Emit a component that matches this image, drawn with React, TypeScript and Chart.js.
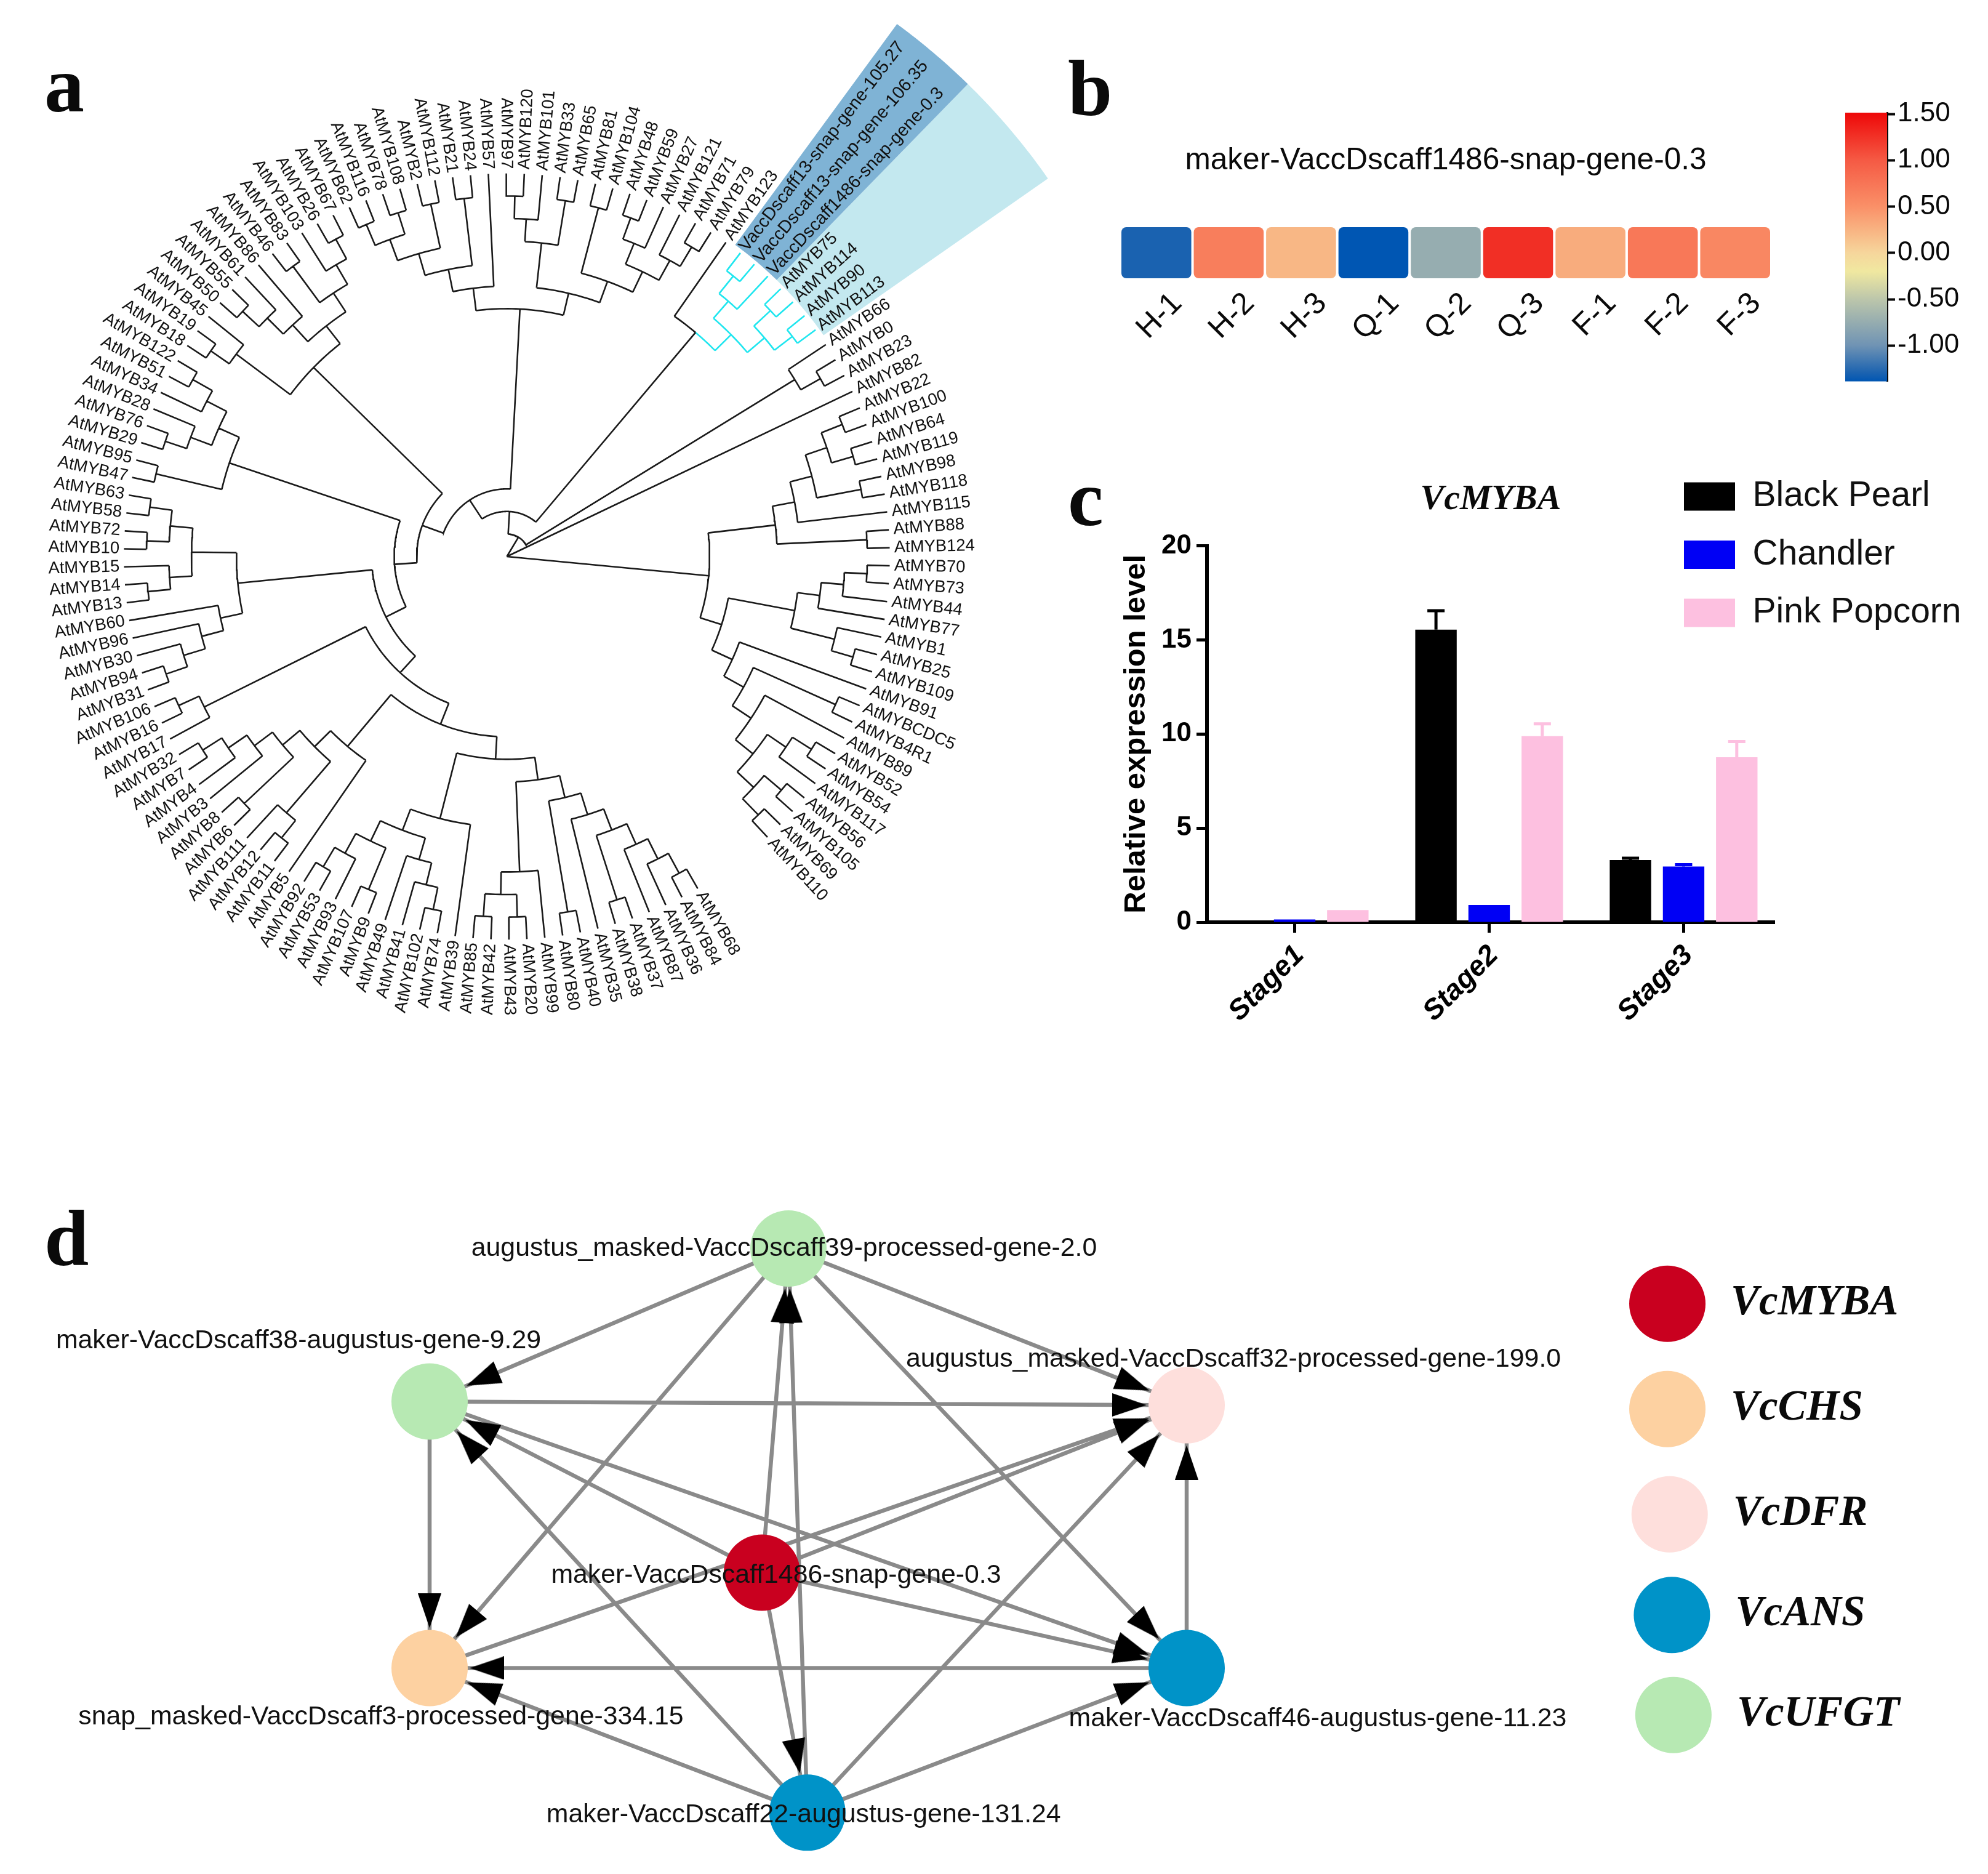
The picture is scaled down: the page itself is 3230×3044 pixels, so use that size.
import React, { useEffect, useRef } from "react";
import { Chart, registerables } from "chart.js";

Chart.register(...registerables);

const SANS = "'Liberation Sans', Arial, sans-serif";
const SERIF = "'Liberation Serif', 'Times New Roman', serif";

/* ---------- panel a: cladogram; the first number of each clade is its depth ---------- */
const V105 = "VaccDscaff13-snap-gene-105.27";
const V106 = "VaccDscaff13-snap-gene-106.35";
const V1486 = "VaccDscaff1486-snap-gene-0.3";
const m = (n: number | string) => "AtMYB" + n;

const cyanClade: any = [14, [15, [16, V105, V106], V1486], [15, [16, m(75), m(114)], [16, m(90), m(113)]]];

const clade292: any = [8,
  [9,
    [10,
      [11, [12, [13, [14, [15, [16, m(68), m(84)], m(36)], m(87)], [16, m(37), m(38)]], m(35)], [16, m(40), m(80)]],
      [14, m(99), [15, [16, m(20), m(43)], [16, m(42), m(85)]]]],
    [12, m(39), [13, [14, [15, [16, m(74), m(102)], m(41)], m(49)], [14, [16, m(9), m(107)], [15, m(93), [16, m(53), m(92)]]]]]],
  [11, m(5), [12, [15, [16, m(11), m(12)], m(111)], [13, [16, m(6), m(8)], [14, m(3), [15, m(4), [16, m(7), m(32)]]]]]]];

const clade254: any = [7, clade292, [15, m(17), [16, m(16), m(106)]]];
const clade218: any = [6, clade254,
  [12, [13, [14, [15, [16, m(31), m(94)], m(30)], m(96)], m(60)],
    [14, [15, [16, m(13), m(14)], m(15)], [15, [16, m(10), m(72)], [16, m(58), m(63)]]]]];
const clade183: any = [5, clade218,
  [13, [16, m(47), m(95)], [14, [15, [16, m(29), m(76)], m(28)], [15, m(34), [16, m(51), m(122)]]]]];
const clade147: any = [4, clade183,
  [12, [15, [16, m(18), m(19)], m(45)],
    [13, [14, [15, [16, m(50), m(55)], m(61)], m(86)], [14, [16, m(46), m(83)], [15, m(103), [16, m(26), m(67)]]]]]];
const clade403: any = [11,
  [12, [13, [14, [15, [16, m(62), m(116)], [16, m(78), m(108)]], [16, m(2), m(112)]], [16, m(21), m(24)]], m(57)],
  [12, [14, [15, [16, m(97), m(120)], m(101)], [16, m(33), m(65)]],
    [13, [16, m(81), m(104)], [14, [15, [16, m(48), m(59)], m(27)], [15, m(121), [16, m(71), m(79)]]]]]];
const clade36: any = [1, [2, [3, clade147, clade403], [13, m(123), cyanClade]], [15, m(66), [16, m(0), m(23)]]];
const clade329: any = [9,
  [12, [13, [14, [15, [16, m(22), m(100)], [16, m(64), m(119)]], [16, m(98), m(118)]], m(115)], [16, m(88), m(124)]],
  [10, [13, [14, [15, [16, m(70), m(73)], m(44)], m(77)], [15, m(1), [16, m(25), m(109)]]],
    [11, m(91), [12, [16, m("CDC5"), m("4R1")],
      [13, m(89), [14, [15, [16, m(52), m(54)], m(117)], [15, [16, m(56), m(105)], [16, m(69), m(110)]]]]]]]];
const treeRoot: any = [0, clade36, m(82), clade329];

const TIP_DEPTH = 17;
const FIRST_LEAF_ANGLE = 60.1;
const LEAF_STEP = 2.69;
const PX_PER_DEPTH = 36.6;
const TREE_CX = 823.5;
const TREE_CY = 904;

type P = { x: number; y: number };
const BREAK: P = { x: NaN, y: NaN };
const polar = (d: number, a: number): P => ({
  x: d * Math.cos((a * Math.PI) / 180),
  y: d * Math.sin((a * Math.PI) / 180),
});

function layoutTree() {
  const black: P[] = [];
  const cyan: P[] = [];
  const leaves: { name: string; angle: number }[] = [];
  const radial = (d0: number, d1: number, a: number, col: boolean) => {
    if (d0 === d1) return;
    (col ? cyan : black).push(polar(d0, a), polar(d1, a), BREAK);
  };
  const arc = (d: number, a0: number, a1: number, col: boolean) => {
    const t = col ? cyan : black;
    const n = Math.max(1, Math.ceil(Math.abs(a1 - a0)));
    for (let i = 0; i <= n; i++) t.push(polar(d, a0 + ((a1 - a0) * i) / n));
    t.push(BREAK);
  };
  const visit = (node: any, parentDepth: number, col: boolean): number => {
    if (typeof node === "string") {
      const a = FIRST_LEAF_ANGLE + LEAF_STEP * leaves.length;
      leaves.push({ name: node, angle: a });
      radial(parentDepth, TIP_DEPTH, a, col);
      return a;
    }
    const [d, ...kids] = node;
    const here = col || node === cyanClade;
    const angles = kids.map((k: any) => visit(k, d, here));
    const a = (angles[0] + angles[angles.length - 1]) / 2;
    radial(parentDepth, d, a, here);
    if (d > 0) kids.forEach((k: any, i: number) => arc(d, a, angles[i], here || k === cyanClade));
    return a;
  };
  visit(treeRoot, 0, false);
  return { black, cyan, leaves };
}

/* ---------- panel b ---------- */
const sampleLabels = ["H-1", "H-2", "H-3", "Q-1", "Q-2", "Q-3", "F-1", "F-2", "F-3"];
const sampleZ = [-1.3, 0.67, 0.22, -1.39, -0.75, 1.27, 0.3, 0.72, 0.58];
const colorValues = [-1.39, -1.3, -1.0, -0.5, -0.2, 0, 0.5, 1.0, 1.5];
const colorStops = ["#0056b3", "#1a62b0", "#6f93b4", "#bcc6ab", "#f0e8a0", "#f6d69c", "#fa9068", "#f55a44", "#ee0a0a"];
const colorTicks = [-1, -0.5, 0, 0.5, 1, 1.5];

const hexRgb = (h: string) => [1, 3, 5].map((i) => parseInt(h.slice(i, i + 2), 16));
function colorFor(v: number) {
  let i = 0;
  while (i < colorValues.length - 2 && v > colorValues[i + 1]) i++;
  const t = Math.min(1, Math.max(0, (v - colorValues[i]) / (colorValues[i + 1] - colorValues[i])));
  const a = hexRgb(colorStops[i]);
  const b = hexRgb(colorStops[i + 1]);
  return `rgb(${a.map((c, k) => Math.round(c + (b[k] - c) * t)).join(",")})`;
}

/* ---------- panel c ---------- */
const stages = ["Stage1", "Stage2", "Stage3"];
const blackPearl = [0, 15.55, 3.3];
const blackPearlTop = [0, 16.55, 3.4];
const chandler = [0.15, 0.92, 2.96];
const chandlerTop = [0.15, 0.92, 3.06];
const pinkPopcorn = [0.65, 9.89, 8.77];
const pinkPopcornTop = [0.65, 10.54, 9.6];

/* ---------- panel d ---------- */
const geneNames = [
  "augustus_masked-VaccDscaff39-processed-gene-2.0",
  "maker-VaccDscaff38-augustus-gene-9.29",
  "augustus_masked-VaccDscaff32-processed-gene-199.0",
  "maker-VaccDscaff1486-snap-gene-0.3",
  "maker-VaccDscaff46-augustus-gene-11.23",
  "snap_masked-VaccDscaff3-processed-gene-334.15",
  "maker-VaccDscaff22-augustus-gene-131.24",
];
const geneClass = ["VcUFGT", "VcUFGT", "VcDFR", "VcMYBA", "VcANS", "VcCHS", "VcANS"];
const geneX = [47.4, 0, 100, 43.9, 100, 0, 49.9];
const geneY = [0, 20.2, 20.7, 42.8, 55.4, 55.4, 74.5];
const labelDx = [-7, -213, 76, 23, 213, -79, -6];
const labelDy = [0, -98, -74, 5, 83, 80, 4];
const edgeFrom = [0, 0, 0, 0, 1, 1, 1, 3, 3, 3, 3, 3, 5, 6, 6, 6, 6, 6, 4, 4];
const edgeTo = [1, 5, 2, 4, 2, 5, 4, 1, 0, 2, 4, 6, 2, 0, 1, 5, 2, 4, 2, 5];
const classNames = ["VcMYBA", "VcCHS", "VcDFR", "VcANS", "VcUFGT"];
const classColors = ["#c9001f", "#fdd1a1", "#fedfdc", "#0093c8", "#b7e9b3"];
const classDotX = [163.5, 163.5, 163.8, 164.1, 164.3];
const classDotY = [7.3, 21.2, 35.1, 48.4, 61.6];
const NET_PX = 12.3;
const NET_X0 = 698;
const NET_Y0 = 2028;
const classColor = (c: string) => classColors[classNames.indexOf(c)];

/* ---------- shared helpers ---------- */
const letter = (text: string, x: number, y: number) => ({
  id: "panelLetter",
  afterDraw(chart: any) {
    const c = chart.ctx;
    c.save();
    c.fillStyle = "#0a0a0a";
    c.font = `bold 130px ${SERIF}`;
    c.textAlign = "left";
    c.textBaseline = "alphabetic";
    c.fillText(text, x, y);
    c.restore();
  },
});

const baseOptions = {
  animation: false,
  responsive: false,
  maintainAspectRatio: false,
  devicePixelRatio: 1,
  events: [],
};

function treeConfig(w: number, h: number) {
  const { black, cyan, leaves } = layoutTree();
  const i0 = leaves.findIndex((l) => l.name === V105);
  const half = LEAF_STEP / 2;
  const a0 = leaves[i0].angle - half;
  const a1 = leaves[i0 + 2].angle + half;
  const a2 = leaves[i0 + 6].angle + half;
  const sector = (from: number, to: number) => {
    const out: P[] = [];
    for (let a = from; a <= to + 1e-6; a += (to - from) / 20) out.push(polar(29.3, a));
    for (let a = to; a >= from - 1e-6; a -= (to - from) / 20) out.push(polar(17.15, a));
    out.push(out[0]);
    return out;
  };
  const shape = (data: P[], color: string, order: number) => ({
    data, showLine: true, fill: "shape", backgroundColor: color, borderColor: color, borderWidth: 0, pointRadius: 0, order, clip: false,
  });
  const line = (data: P[], color: string) => ({
    data, showLine: true, borderColor: color, borderWidth: 2.6, pointRadius: 0, tension: 0, order: 1, clip: false,
  });
  return {
    type: "scatter",
    data: {
      datasets: [
        shape(sector(a1, a2), "#c3e8ef", 5),
        shape(sector(a0, a1), "#7fb3d5", 4),
        line(black, "#1a1a1a"),
        line(cyan, "#1fe6ef"),
      ],
    },
    options: {
      ...baseOptions,
      layout: { padding: 0, autoPadding: false },
      plugins: { legend: { display: false }, tooltip: { enabled: false } },
      scales: {
        x: { type: "linear", display: false, min: -TREE_CX / PX_PER_DEPTH, max: (w - TREE_CX) / PX_PER_DEPTH },
        y: { type: "linear", display: false, reverse: true, min: -TREE_CY / PX_PER_DEPTH, max: (h - TREE_CY) / PX_PER_DEPTH },
      },
    },
    plugins: [
      {
        id: "leafLabels",
        afterDatasetsDraw(chart: any) {
          const c = chart.ctx;
          const { x, y } = chart.scales;
          leaves.forEach((l) => {
            const p = polar(17.2, l.angle);
            const isVacc = l.name.startsWith("Vacc");
            const flip = l.angle % 360 > 90 && l.angle % 360 < 270;
            c.save();
            c.translate(x.getPixelForValue(p.x), y.getPixelForValue(p.y));
            c.rotate(((flip ? l.angle + 180 : l.angle) * Math.PI) / 180);
            c.fillStyle = "#111";
            c.font = `${isVacc ? 29 : 27.4}px ${SANS}`;
            c.textBaseline = "middle";
            c.textAlign = flip ? "right" : "left";
            c.fillText(l.name, 0, 0);
            c.restore();
          });
        },
      },
      letter("a", 72, 181),
    ],
  };
}

function heatConfig() {
  return {
    type: "bar",
    data: {
      labels: sampleLabels,
      datasets: [
        {
          data: sampleZ.map(() => [0, 1]),
          backgroundColor: sampleZ.map(colorFor),
          barPercentage: 0.966,
          categoryPercentage: 1,
          borderRadius: 8,
          borderSkipped: false,
        },
      ],
    },
    options: {
      ...baseOptions,
      layout: { padding: { left: 100, right: 72, top: 0, bottom: 0 }, autoPadding: false },
      plugins: {
        legend: { display: false },
        tooltip: { enabled: false },
        title: {
          display: true,
          fullSize: false,
          text: "maker-VaccDscaff1486-snap-gene-0.3",
          color: "#0a0a0a",
          font: { family: SANS, size: 49.6, weight: "normal" },
          padding: { top: 182, bottom: 77.5 },
        },
      },
      scales: {
        x: {
          grid: { display: false },
          border: { display: false },
          afterFit: (s: any) => { s.height = 198; },
          ticks: {
            color: "#0a0a0a",
            font: { family: SANS, size: 50 },
            minRotation: 45,
            maxRotation: 45,
            autoSkip: false,
            labelOffset: 34,
            padding: 4,
          },
        },
        y: { display: false, min: 0, max: 1 },
      },
    },
    plugins: [letter("b", 1735 - 1720, 187 - 50)],
  };
}

function colorbarConfig() {
  const lo = -1.388;
  const hi = 1.514;
  return {
    type: "bar",
    data: {
      labels: [""],
      datasets: [
        {
          data: [[lo, hi]],
          barPercentage: 1,
          categoryPercentage: 1,
          borderSkipped: false,
          backgroundColor: (ctx: any) => {
            const { chart } = ctx;
            const area = chart.chartArea;
            if (!area) return "#888";
            const g = chart.ctx.createLinearGradient(0, area.bottom, 0, area.top);
            colorValues.forEach((v, i) => {
              g.addColorStop(Math.min(1, Math.max(0, (v - lo) / (hi - lo))), colorStops[i]);
            });
            return g;
          },
        },
      ],
    },
    options: {
      ...baseOptions,
      layout: { padding: { left: 48, right: 0, top: 33, bottom: 30 }, autoPadding: false },
      plugins: { legend: { display: false }, tooltip: { enabled: false } },
      scales: {
        x: { display: false },
        y: {
          position: "right",
          min: lo,
          max: hi,
          afterFit: (s: any) => { s.width = 164; },
          afterBuildTicks: (s: any) => { s.ticks = colorTicks.map((value) => ({ value })); },
          grid: { display: true, drawOnChartArea: false, drawTicks: true, tickLength: 13, tickWidth: 4, tickColor: "#0a0a0a" },
          border: { display: true, color: "#0a0a0a", width: 3 },
          ticks: {
            color: "#0a0a0a",
            font: { family: SANS, size: 44 },
            padding: 4,
            autoSkip: false,
            callback: (v: number) => Number(v).toFixed(2),
          },
        },
      },
    },
  };
}

function barsConfig() {
  const ds = (label: string, vals: number[], color: string) => ({
    label,
    data: vals.map((y, x) => ({ x, y })),
    backgroundColor: color,
    borderWidth: 0,
    barPercentage: 0.78,
    categoryPercentage: 0.82,
  });
  const tops = [blackPearlTop, chandlerTop, pinkPopcornTop];
  const tickFont = { family: SANS, size: 44, weight: "bold" };
  return {
    type: "bar",
    data: {
      datasets: [
        ds("Black Pearl", blackPearl, "#000000"),
        ds("Chandler", chandler, "#0000f5"),
        ds("Pink Popcorn", pinkPopcorn, "#fdc0e0"),
      ],
    },
    options: {
      ...baseOptions,
      layout: { padding: { left: 93, right: 347, top: 0, bottom: 0 }, autoPadding: false },
      plugins: {
        tooltip: { enabled: false },
        title: {
          display: true,
          fullSize: false,
          text: "VcMYBA",
          color: "#0a0a0a",
          font: { family: SERIF, size: 58, weight: "bold", style: "italic" },
          padding: { top: 7, bottom: 40 },
        },
        legend: {
          display: true,
          position: "chartArea",
          align: "start",
          labels: {
            boxWidth: 83,
            boxHeight: 46,
            padding: 37.5,
            color: "#111",
            font: { family: SANS, size: 57 },
          },
        },
      },
      scales: {
        x: {
          type: "linear",
          offset: false,
          min: -0.451,
          max: 2.467,
          afterFit: (s: any) => { s.height = 222; },
          afterBuildTicks: (s: any) => { s.ticks = stages.map((_, value) => ({ value })); },
          grid: { display: true, offset: false, drawOnChartArea: false, drawTicks: true, tickLength: 17, tickWidth: 5, tickColor: "#000" },
          border: { display: true, color: "#000", width: 6 },
          ticks: {
            color: "#000",
            font: { family: SANS, size: 46, weight: "bold", style: "italic" },
            minRotation: 45,
            maxRotation: 45,
            autoSkip: false,
            padding: 10,
            labelOffset: 8,
            callback: (v: number) => stages[v],
          },
        },
        y: {
          min: 0,
          max: 20,
          afterFit: (s: any) => { s.width = 148; },
          grid: { display: true, drawOnChartArea: false, drawTicks: true, tickLength: 17, tickWidth: 5, tickColor: "#000" },
          border: { display: true, color: "#000", width: 6 },
          ticks: { color: "#000", font: tickFont, stepSize: 5, padding: 8 },
          title: {
            display: true,
            text: "Relative expression level",
            color: "#000",
            font: { family: SANS, size: 49, weight: "bold" },
            padding: { top: 4, bottom: 4 },
          },
        },
      },
    },
    plugins: [
      {
        id: "placeLegend",
        afterLayout(chart: any) {
          const l = chart.legend;
          const w = l.width;
          const h = l.height;
          l.left = 978.5;
          l.top = -29.5;
          l.right = l.left + w;
          l.bottom = l.top + h;
        },
      },
      {
        id: "errorBars",
        afterDatasetsDraw(chart: any) {
          const c = chart.ctx;
          const y = chart.scales.y;
          tops.forEach((arr, di) => {
            const meta = chart.getDatasetMeta(di);
            arr.forEach((top, i) => {
              const value = chart.data.datasets[di].data[i].y;
              if (top <= value) return;
              const bar = meta.data[i];
              c.save();
              c.strokeStyle = chart.data.datasets[di].backgroundColor;
              c.lineWidth = 5;
              c.beginPath();
              c.moveTo(bar.x, y.getPixelForValue(value));
              c.lineTo(bar.x, y.getPixelForValue(top));
              c.moveTo(bar.x - 14, y.getPixelForValue(top));
              c.lineTo(bar.x + 14, y.getPixelForValue(top));
              c.stroke();
              c.restore();
            });
          });
        },
      },
      letter("c", 1735 - 1720, 853 - 770),
    ],
  };
}

function networkConfig(w: number, h: number, top: number) {
  const lines: P[] = [];
  const heads: P[] = [];
  const rotation: number[] = [];
  const R = 62 / NET_PX;
  const HEAD_LEN = 56;
  const HEAD_W = 38;
  const head = document.createElement("canvas");
  head.width = HEAD_W;
  head.height = HEAD_LEN;
  const hc = head.getContext("2d")!;
  hc.fillStyle = "#000";
  hc.beginPath();
  hc.moveTo(HEAD_W / 2, 0);
  hc.lineTo(HEAD_W, HEAD_LEN);
  hc.lineTo(0, HEAD_LEN);
  hc.closePath();
  hc.fill();
  edgeFrom.forEach((f, i) => {
    const t = edgeTo[i];
    const dx = geneX[t] - geneX[f];
    const dy = geneY[t] - geneY[f];
    const len = Math.hypot(dx, dy);
    const back = R + (3 + HEAD_LEN / 2) / NET_PX;
    lines.push({ x: geneX[f], y: geneY[f] }, { x: geneX[t], y: geneY[t] }, BREAK);
    heads.push({ x: geneX[t] - (dx / len) * back, y: geneY[t] - (dy / len) * back });
    rotation.push((Math.atan2(dy, dx) * 180) / Math.PI + 90);
  });
  return {
    type: "scatter",
    data: {
      datasets: [
        { data: lines, showLine: true, borderColor: "#8a8a8a", borderWidth: 6.5, pointRadius: 0, order: 4, clip: false },
        { data: heads, pointStyle: head, pointRotation: rotation, pointRadius: 10, showLine: false, order: 3, clip: false },
        {
          data: geneX.map((x, i) => ({ x, y: geneY[i] })),
          pointRadius: 62,
          pointBorderWidth: 0,
          pointBackgroundColor: geneClass.map(classColor),
          showLine: false,
          order: 2,
          clip: false,
        },
        {
          data: classDotX.map((x, i) => ({ x, y: classDotY[i] })),
          pointRadius: 62,
          pointBorderWidth: 0,
          pointBackgroundColor: classColors,
          showLine: false,
          order: 2,
          clip: false,
        },
      ],
    },
    options: {
      ...baseOptions,
      layout: { padding: 0, autoPadding: false },
      plugins: { legend: { display: false }, tooltip: { enabled: false } },
      scales: {
        x: { type: "linear", display: false, min: -NET_X0 / NET_PX, max: (w - NET_X0) / NET_PX },
        y: {
          type: "linear",
          display: false,
          reverse: true,
          min: (top - NET_Y0) / NET_PX,
          max: (top + h - NET_Y0) / NET_PX,
        },
      },
    },
    plugins: [
      {
        id: "netLabels",
        afterDatasetsDraw(chart: any) {
          const c = chart.ctx;
          const { x, y } = chart.scales;
          c.save();
          c.fillStyle = "#111";
          c.font = `42.8px ${SANS}`;
          c.textAlign = "center";
          c.textBaseline = "middle";
          geneNames.forEach((name, i) => {
            c.fillText(name, x.getPixelForValue(geneX[i]) + labelDx[i], y.getPixelForValue(geneY[i]) + labelDy[i]);
          });
          c.fillStyle = "#0a0a0a";
          c.font = `italic bold 69px ${SERIF}`;
          c.textAlign = "left";
          c.textBaseline = "alphabetic";
          classNames.forEach((name, i) => {
            c.fillText(name, x.getPixelForValue(classDotX[i]) + 103, y.getPixelForValue(classDotY[i]) + 17);
          });
          c.restore();
        },
      },
      letter("d", 72, 2055 - top),
    ],
  };
}

function Panel({ left, top, width, height, build }: any) {
  const ref = useRef<HTMLCanvasElement | null>(null);
  useEffect(() => {
    const chart = new Chart(ref.current as any, build() as any);
    return () => chart.destroy();
  }, []);
  return (
    <canvas
      ref={ref}
      width={width}
      height={height}
      style={{ position: "absolute", left, top, width, height, display: "block" }}
    />
  );
}

export default function App() {
  useEffect(() => {
    document.body.style.margin = "0";
    document.body.style.background = "#ffffff";
  }, []);
  return (
    <div style={{ position: "absolute", left: 0, top: 0, width: 3230, height: 3044, background: "#fff", overflow: "hidden" }}>
      <Panel left={0} top={0} width={1720} height={1760} build={() => treeConfig(1720, 1760)} />
      <Panel left={1720} top={50} width={1230} height={600} build={heatConfig} />
      <Panel left={2950} top={150} width={280} height={500} build={colorbarConfig} />
      <Panel left={1720} top={770} width={1510} height={950} build={barsConfig} />
      <Panel left={0} top={1900} width={3230} height={1144} build={() => networkConfig(3230, 1144, 1900)} />
    </div>
  );
}
